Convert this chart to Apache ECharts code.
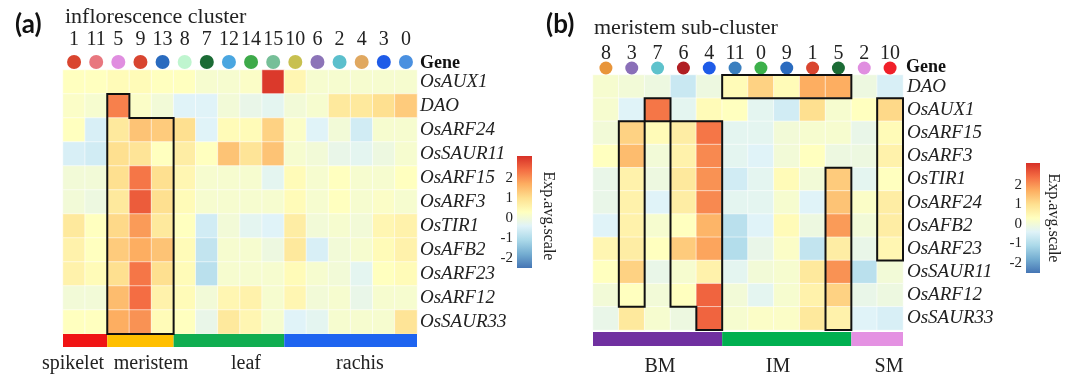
<!DOCTYPE html>
<html><head><meta charset="utf-8">
<script src="https://cdn.jsdelivr.net/npm/echarts@6/dist/echarts.min.js"></script>
<style>html,body{margin:0;padding:0;background:#fff}#c{width:1080px;height:381px}</style>
</head><body><div id="c"></div>
<script>
// ---------- Panel (a): inflorescence cluster ----------
const clustersA = ['1','11','5','9','13','8','7','12','14','15','10','6','2','4','3','0'];
const clusterColorsA = ['#d9452f','#e8777f','#e08ee0','#d84530','#2a6bbf','#bff5cf','#1b6b35','#4aa6e0','#3eaa4a','#76bf98','#c8c050','#8c74b8','#5bbfcc','#e0a860','#1e5be8','#4a90e0'];
const genesA = ['OsAUX1','DAO','OsARF24','OsSAUR11','OsARF15','OsARF3','OsTIR1','OsAFB2','OsARF23','OsARF12','OsSAUR33'];
const valuesA = [
  [0.3,0.3,0.4,0.4,0.3,0.3,0.1,0.1,0.2,3.0,0.5,0.1,0.1,0.1,0.1,0.1],
  [0.2,0.1,2.2,0.2,0.0,-0.4,-0.4,0.0,-0.2,-0.3,0.0,0.1,0.8,0.8,1.0,1.3],
  [0.3,-0.5,0.8,1.4,1.3,1.0,-0.4,0.4,0.4,1.2,0.2,-0.4,0.0,-0.6,0.1,0.1],
  [-0.5,-0.6,1.0,0.9,0.3,0.7,0.3,1.4,0.9,1.4,0.1,0.0,-0.2,-0.3,-0.1,0.1],
  [0.0,0.0,1.0,2.3,1.0,0.5,0.1,0.1,0.1,-0.3,0.4,0.1,0.3,0.1,0.1,0.3],
  [0.0,-0.1,0.8,2.6,1.0,0.4,0.1,0.1,0.1,0.1,0.4,0.1,0.3,0.1,0.2,0.1],
  [0.8,0.3,1.1,1.9,0.8,0.3,-0.6,0.0,-0.3,-0.4,0.7,0.0,0.1,0.0,0.5,0.6],
  [0.6,0.3,1.3,1.7,1.4,0.4,-0.8,0.1,0.1,-0.1,0.8,-0.5,0.0,0.1,0.4,0.6],
  [0.6,0.4,1.0,2.3,1.0,0.4,-0.9,0.1,0.1,0.1,0.4,0.1,0.0,-0.3,0.3,0.4],
  [0.0,0.0,1.5,2.4,0.6,0.4,0.0,0.5,0.6,0.1,0.5,0.0,0.1,-0.2,0.1,0.1],
  [0.3,0.3,1.7,2.0,0.4,0.3,-0.2,0.8,0.5,0.1,-0.4,-0.3,0.1,0.1,0.1,0.9]
];
const groupNamesA = ['spikelet','meristem','leaf','rachis'];
const groupStartA = [0,2,5,10];
const groupEndA = [1,4,9,15];
const groupColorsA = ['#f01414','#ffbf00','#10ad50','#1e64f0'];
// outlines: corners as [column boundary, row boundary]
const outlinesA = [
  [[2,1],[3,1],[3,2],[5,2],[5,11],[2,11]]
];

// ---------- Panel (b): meristem sub-cluster ----------
const clustersB = ['8','3','7','6','4','11','0','9','1','5','2','10'];
const clusterColorsB = ['#e8953a','#8a6fb8','#5ec2cc','#b01e23','#1e5be8','#3a7fbf','#3cb04a','#2a6bbf','#d9452f','#1b6b35','#e08ee0','#f0202a'];
const genesB = ['DAO','OsAUX1','OsARF15','OsARF3','OsTIR1','OsARF24','OsAFB2','OsARF23','OsSAUR11','OsARF12','OsSAUR33'];
const valuesB = [
  [0.1,0.0,-0.1,-0.7,-0.1,0.4,1.2,0.4,1.7,1.7,-0.1,-0.5],
  [0.1,-0.4,2.3,-0.3,0.4,0.3,-0.3,-0.6,1.0,0.1,0.3,1.1],
  [0.0,1.2,0.4,0.7,2.3,-0.3,-0.3,0.0,0.1,0.1,-0.2,0.4],
  [0.3,1.5,0.0,0.6,2.1,-0.3,-0.4,0.0,0.3,-0.1,-0.1,0.6],
  [-0.2,0.6,-0.1,0.8,2.0,-0.6,-0.3,0.4,0.0,1.3,-0.3,0.3],
  [-0.2,0.6,-0.4,0.7,2.1,-0.3,-0.3,0.1,-0.4,1.4,0.2,0.7],
  [-0.4,0.6,0.1,0.3,1.6,-0.9,-0.4,0.4,-0.1,1.9,0.0,0.7],
  [0.5,0.7,0.3,1.3,1.8,-1.0,-0.2,0.2,-0.8,0.7,-0.2,0.5],
  [0.3,1.2,-0.2,0.1,0.6,-0.3,0.0,0.1,0.8,2.0,-0.9,0.0],
  [0.0,0.3,0.0,0.3,2.5,0.0,-0.3,0.1,0.6,1.2,-0.2,-0.1],
  [-0.2,0.8,0.1,-0.1,2.5,0.1,0.2,0.2,0.8,0.6,-0.4,-0.5]
];
const groupNamesB = ['BM','IM','SM'];
const groupStartB = [0,5,10];
const groupEndB = [4,9,11];
const groupColorsB = ['#7030a0','#00b050','#e491e2'];
const outlinesB = [
  [[5,0],[10,0],[10,1],[5,1]],
  [[2,1],[3,1],[3,2],[2,2]],
  [[1,2],[2,2],[2,10],[1,10]],
  [[3,2],[5,2],[5,11],[4,11],[4,10],[3,10]],
  [[9,4],[10,4],[10,11],[9,11]],
  [[11,1],[12,1],[12,8],[11,8]]
];

// ---------- colour scale ----------
const scaleMin = -2.5, scaleMax = 3.1;
const scaleTicks = [-2,-1,0,1,2];
const palette = ['#4575b4','#74add1','#abd9e9','#e0f3f8','#ffffbf','#fee090','#fdae61','#f46d43','#d73027'];

const SERIF = '"Liberation Serif", "Times New Roman", "DejaVu Serif", serif';

function heatData(vals){
  const out = [];
  vals.forEach((row,r)=>row.forEach((v,c)=>out.push([c,r,v])));
  return out;
}
function cellGeom(api){
  const p = api.coord([0,0]);
  const s = api.size([1,1]);
  return {x0: p[0]-s[0]/2, y0: p[1]-s[1]/2, bw: s[0], bh: s[1]};
}
function dotsSeries(gi, colors, offset, r){
  return {
    type:'custom', xAxisIndex:gi, yAxisIndex:gi, clip:false, silent:true,
    data: colors.map((c,i)=>[i,0]),
    renderItem:(params, api)=>{
      const g = cellGeom(api);
      const i = api.value(0);
      return {type:'circle', shape:{cx: g.x0 + (i+0.5)*g.bw, cy: g.y0 - offset, r:r},
        style:{fill: colors[i]}};
    }
  };
}
function groupSeries(gi, starts, ends, colors, nRows, gap, h){
  return {
    type:'custom', xAxisIndex:gi, yAxisIndex:gi, clip:false, silent:true,
    data: starts.map((s,i)=>[s,0,ends[i],i]),
    renderItem:(params, api)=>{
      const g = cellGeom(api);
      const s = api.value(0), e = api.value(2), k = api.value(3);
      return {type:'rect', shape:{x: g.x0 + s*g.bw, y: g.y0 + nRows*g.bh + gap, width:(e-s+1)*g.bw, height:h},
        style:{fill: colors[k]}};
    }
  };
}
function outlineSeries(gi, outlines){
  return {
    type:'custom', xAxisIndex:gi, yAxisIndex:gi, clip:false, silent:true, z:5,
    data: outlines.map((o,i)=>[0,0,i]),
    renderItem:(params, api)=>{
      const g = cellGeom(api);
      const o = outlines[api.value(2)];
      return {type:'polygon', shape:{points: o.map(p=>[g.x0+p[0]*g.bw, g.y0+p[1]*g.bh])},
        style:{fill:'none', stroke:'#111', lineWidth:2}};
    }
  };
}
function colorbarSeries(gi){
  const stops = palette.map((c,i)=>({offset:i/(palette.length-1), color:c}));
  return {
    type:'custom', xAxisIndex:gi, yAxisIndex:gi, silent:true, clip:false,
    data:[[0, scaleMin, 1, scaleMax]],
    renderItem:(params, api)=>{
      const p1 = api.coord([api.value(0), api.value(1)]);
      const p2 = api.coord([api.value(2), api.value(3)]);
      return {type:'rect', shape:{x:p1[0], y:p2[1], width:p2[0]-p1[0], height:p1[1]-p2[1]},
        style:{fill: new echarts.graphic.LinearGradient(0,1,0,0, stops)}};
    }
  };
}
function catX(gi, data, margin){
  return {type:'category', gridIndex:gi, data:data, position:'top',
    axisLine:{show:false}, axisTick:{show:false}, splitLine:{show:false},
    axisLabel:{interval:0, hideOverlap:false, margin:margin, fontFamily:SERIF, fontSize:20, color:'#222'}};
}
function catY(gi, data, margin){
  return {type:'category', gridIndex:gi, data:data, position:'right', inverse:true,
    axisLine:{show:false}, axisTick:{show:false}, splitLine:{show:false},
    axisLabel:{interval:0, margin:margin, fontFamily:SERIF, fontStyle:'italic', fontSize:19, color:'#222'}};
}
function cbX(gi){
  return {type:'value', gridIndex:gi, min:0, max:1, show:false};
}
function cbY(gi){
  return {type:'value', gridIndex:gi, min:scaleMin, max:scaleMax, position:'left',
    axisLine:{show:false}, axisTick:{show:false}, splitLine:{show:false},
    axisLabel:{customValues:scaleTicks, margin:4, fontFamily:SERIF, fontSize:15, color:'#222'}};
}
const cellStyle = {borderColor:'rgba(255,255,255,0.55)', borderWidth:1};
function txt(text, x, y, size, extra){
  return Object.assign({type:'text', x:x, y:y, style:{text:text, fontFamily:SERIF, fontSize:size, fill:'#222', align:'center', verticalAlign:'middle'}}, extra||{});
}

const option = {
  animation:false,
  backgroundColor:'#fff',
  textStyle:{fontFamily:SERIF},
  grid:[
    {left:63, top:70, width:354, height:264},
    {left:593, top:75, width:310, height:255},
    {left:517, top:156, width:15, height:112},
    {left:1026, top:163, width:14, height:110}
  ],
  xAxis:[catX(0, clustersA, 20), catX(1, clustersB, 11), cbX(2), cbX(3)],
  yAxis:[catY(0, genesA, 3), catY(1, genesB, 4), cbY(2), cbY(3)],
  visualMap:{type:'continuous', show:false, min:scaleMin, max:scaleMax, seriesIndex:[0,4],
    dimension:2, inRange:{color:palette}},
  series:[
    {type:'heatmap', xAxisIndex:0, yAxisIndex:0, data:heatData(valuesA), itemStyle:cellStyle},
    dotsSeries(0, clusterColorsA, 8, 7),
    groupSeries(0, groupStartA, groupEndA, groupColorsA, genesA.length, 0, 13),
    outlineSeries(0, outlinesA),
    {type:'heatmap', xAxisIndex:1, yAxisIndex:1, data:heatData(valuesB), itemStyle:cellStyle},
    dotsSeries(1, clusterColorsB, 7, 6.5),
    groupSeries(1, groupStartB, groupEndB, groupColorsB, genesB.length, 2, 14),
    outlineSeries(1, outlinesB),
    colorbarSeries(2),
    colorbarSeries(3)
  ],
  graphic:[
    {type:'text', left:15, top:12, style:{text:'(a)', fontFamily:'Lato', fontWeight:'bold', fontSize:26, fill:'#111'}},
    {type:'text', left:546, top:12, style:{text:'(b)', fontFamily:'Lato', fontWeight:'bold', fontSize:26, fill:'#111'}},
    {type:'text', left:65, top:6, style:{text:'inflorescence cluster', fontFamily:SERIF, fontSize:22, fill:'#222'}},
    {type:'text', left:594, top:17, style:{text:'meristem sub-cluster', fontFamily:SERIF, fontSize:22, fill:'#222'}},
    {type:'text', left:420, top:54, style:{text:'Gene', fontFamily:SERIF, fontWeight:'bold', fontSize:18, fill:'#111'}},
    {type:'text', left:906, top:58, style:{text:'Gene', fontFamily:SERIF, fontWeight:'bold', fontSize:18, fill:'#111'}},
    txt('Exp.avg.scale', 548, 216, 16, {rotation:-Math.PI/2}),
    txt('Exp.avg.scale', 1053, 218, 16, {rotation:-Math.PI/2}),
    txt(groupNamesA[0], 73, 364, 20),
    txt(groupNamesA[1], 151, 364, 20),
    txt(groupNamesA[2], 246, 364, 20),
    txt(groupNamesA[3], 360, 364, 20),
    txt(groupNamesB[0], 660, 367, 20),
    txt(groupNamesB[1], 778, 367, 20),
    txt(groupNamesB[2], 889, 367, 20)
  ]
};
const chart = echarts.init(document.getElementById('c'), null, {renderer:'canvas'});
chart.setOption(option);
</script>
</body></html>
